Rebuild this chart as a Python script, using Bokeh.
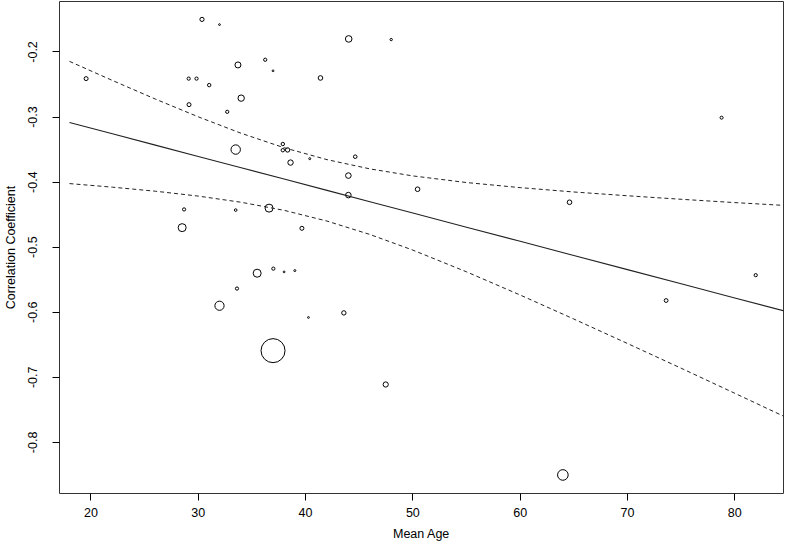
from bokeh.plotting import figure
from bokeh.models import FixedTicker, ColumnDataSource, Range1d
from bokeh.embed import file_html
from bokeh.resources import INLINE
import math

# ---- data ----
mean_age = [19.55, 30.35, 31.98, 44.02, 47.98, 33.70, 36.24, 36.97, 29.11, 29.84,
            31.02, 41.39, 34.00, 29.14, 32.70, 33.49, 37.88, 37.88, 38.33, 38.60,
            40.39, 44.63, 43.99, 43.99, 28.68, 33.49, 36.60, 28.50, 39.66, 35.49,
            37.00, 38.00, 39.00, 78.77, 50.44, 64.60, 81.95, 33.61, 31.98, 40.27,
            43.57, 36.97, 47.47, 73.60, 63.98]
corr = [-0.241, -0.150, -0.158, -0.180, -0.181, -0.220, -0.212, -0.229, -0.241, -0.241,
        -0.251, -0.240, -0.271, -0.281, -0.292, -0.350, -0.3415, -0.351, -0.3506, -0.370,
        -0.364, -0.361, -0.390, -0.420, -0.442, -0.443, -0.440, -0.470, -0.471, -0.540,
        -0.533, -0.538, -0.536, -0.301, -0.411, -0.431, -0.543, -0.5636, -0.590, -0.608,
        -0.601, -0.659, -0.711, -0.582, -0.850]
# relative study weights (bubble area)
weight = [4.0, 4.4, 0.8, 10.9, 1.4, 9.0, 2.6, 0.8, 2.6, 2.6,
          2.9, 5.3, 10.2, 4.0, 2.6, 22.1, 2.9, 2.9, 4.8, 7.3,
          1.0, 3.2, 7.8, 7.8, 2.6, 1.7, 16.0, 16.0, 4.0, 16.0,
          2.6, 0.8, 1.0, 2.3, 5.3, 5.3, 2.6, 2.6, 21.2, 0.8,
          4.8, 144.0, 6.8, 3.6, 28.1]

# fitted meta-regression line and 95% confidence band
fit_x = [18, 22, 26, 30, 34, 38, 42, 46, 50, 55, 60, 65, 70, 75, 80, 85]
fit_y = [-0.3084, -0.3258, -0.3432, -0.3606, -0.3780, -0.3953, -0.4127, -0.4301,
         -0.4475, -0.4693, -0.4910, -0.5128, -0.5345, -0.5562, -0.5780, -0.5997]
ci_upper = [-0.2145, -0.2438, -0.2724, -0.2997, -0.3250, -0.3472, -0.3655, -0.3797,
            -0.3905, -0.4007, -0.4085, -0.4152, -0.4210, -0.4264, -0.4315, -0.4362]
ci_lower = [-0.4023, -0.4078, -0.4140, -0.4215, -0.4310, -0.4434, -0.4599, -0.4805,
            -0.5045, -0.5379, -0.5735, -0.6104, -0.6480, -0.6860, -0.7245, -0.7632]

x_ticks = [20, 30, 40, 50, 60, 70, 80]
y_ticks = [-0.8, -0.7, -0.6, -0.5, -0.4, -0.3, -0.2]
y_tick_labels = ["-0.8", "-0.7", "-0.6", "-0.5", "-0.4", "-0.3", "-0.2"]

FONT = "Liberation Sans"

p = figure(width=784, height=543, output_backend="svg", toolbar_location=None,
           x_range=Range1d(17.07, 84.54), y_range=Range1d(-0.8785, -0.1225),
           min_border_left=55, min_border_right=1, min_border_top=1, min_border_bottom=50,
           background_fill_color="white", border_fill_color="white")
p.xgrid.visible = False
p.ygrid.visible = False
p.outline_line_color = "#333333"
p.outline_line_width = 1

src = ColumnDataSource(dict(x=mean_age, y=corr,
                            size=[2.0 * math.sqrt(w) for w in weight]))
p.scatter("x", "y", size="size", source=src, marker="circle",
          fill_color=None, line_color="black", line_width=1)

p.line(fit_x, fit_y, line_color="#222222", line_width=1.1)
p.line(fit_x, ci_upper, line_color="#222222", line_width=1, line_dash="4 3")
p.line(fit_x, ci_lower, line_color="#222222", line_width=1, line_dash="4 3")

for ax in (p.xaxis[0], p.yaxis[0]):
    ax.axis_line_color = None
    ax.major_tick_line_color = "black"
    ax.major_tick_out = 7
    ax.major_tick_in = 0
    ax.minor_tick_out = 0
    ax.minor_tick_in = 0
    ax.major_label_text_font = FONT
    ax.major_label_text_font_size = "12.5px"
    ax.major_label_text_color = "black"
    ax.axis_label_text_font = FONT
    ax.axis_label_text_font_size = "12.5px"
    ax.axis_label_text_font_style = "normal"
    ax.axis_label_text_color = "black"
    ax.axis_label_standoff = 8

p.xaxis.major_label_standoff = 7
p.yaxis.major_label_standoff = 15
p.xaxis.axis_label_standoff = 7
p.xaxis.ticker = FixedTicker(ticks=x_ticks)
p.yaxis.ticker = FixedTicker(ticks=y_ticks)
p.yaxis.major_label_overrides = {t: l for t, l in zip(y_ticks, y_tick_labels)}
p.yaxis.major_label_orientation = "parallel"
p.xaxis.axis_label = "Mean Age"
p.yaxis.axis_label = "Correlation Coefficient"

open("out.html", "w").write(file_html(p, INLINE))
